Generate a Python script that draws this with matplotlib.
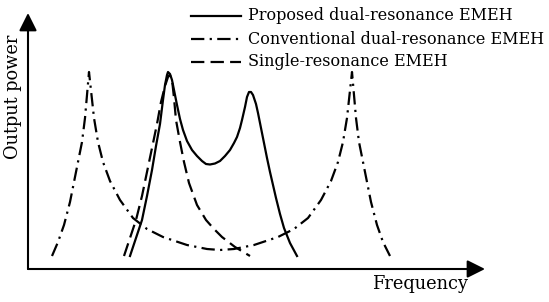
import matplotlib
matplotlib.use("Agg")
import matplotlib.pyplot as plt
from matplotlib.lines import Line2D

# Schematic values (arbitrary units)
conv_freq = [24, 30, 36, 42, 48, 54, 57, 59, 61, 63.5, 66, 70, 75, 82, 92, 105, 119, 135, 159, 179, 192,
             206, 226, 250, 266, 280, 293, 303, 310, 315, 319, 321.5, 324, 326, 328, 331, 337, 343, 349, 355, 362]
conv_power = [13, 27, 44, 67, 97, 127, 151, 174, 197, 174, 151, 127, 107, 88, 69, 51, 40, 32, 24, 20, 19,
              20, 24, 32, 40, 51, 69, 88, 107, 127, 151, 174, 197, 174, 151, 127, 97, 67, 44, 27, 13]

prop_freq = [102, 108, 114, 119, 124, 128, 132, 135, 137, 139, 140, 142, 144, 146, 149, 152, 155, 159, 164,
             169, 174, 178, 182, 187, 192, 197, 202, 206, 209, 212, 214, 217, 219, 221, 223, 225, 228, 230,
             233, 236, 239, 242, 245, 248, 252, 256, 262, 269]
prop_power = [13, 31, 49, 73, 99, 123, 145, 169, 184, 194, 197, 195, 189, 179, 164, 150, 139, 128, 119,
              113, 108, 105, 104.5, 105.5, 108, 113, 119, 126, 132, 141, 149, 162, 172, 177, 177, 174, 165,
              156, 141, 126, 111, 97, 84, 71, 55, 41, 26, 13]

single_freq = [96, 102, 108, 114, 119, 124, 129, 133, 137, 140, 141.5, 143, 144.5, 146, 148, 152, 156,
               161, 169, 178, 186, 194, 207, 222]
single_power = [13, 31, 49, 73, 97, 121, 145, 167, 183, 192, 194, 192, 185, 171, 149, 127, 107, 86, 64,
                49, 40, 32, 22, 13]

labels = ["Proposed dual-resonance EMEH",
          "Conventional dual-resonance EMEH",
          "Single-resonance EMEH"]
x_label = "Frequency"
y_label = "Output power"

W, H = 549, 302
fig = plt.figure(figsize=(W / 100, H / 100), dpi=100)
ax = fig.add_axes([28 / W, 33 / H, 457 / W, 256 / H])
ax.set_xlim(0, 457)
ax.set_ylim(0, 256)
ax.axis("off")

lw = 1.6
styles = [
    dict(color="black", lw=lw, linestyle="-"),
    dict(color="black", lw=lw, linestyle=(0, (6.0, 2.4, 1.0, 2.4))),
    dict(color="black", lw=lw, linestyle=(0, (6.0, 2.8))),
]

ax.plot(prop_freq, prop_power, **styles[0], solid_joinstyle="round")
ax.plot(conv_freq, conv_power, **styles[1], clip_on=False)
ax.plot(single_freq, single_power, **styles[2], clip_on=False)

# axes with arrows
arrow = dict(arrowstyle="-|>,head_length=0.4,head_width=0.2", mutation_scale=27,
             lw=1.5, color="black", shrinkA=0, shrinkB=0)
ax.annotate("", xy=(1, 0), xytext=(0, 0), xycoords="axes fraction", arrowprops=arrow)
ax.annotate("", xy=(0, 1), xytext=(0, 0), xycoords="axes fraction", arrowprops=arrow)

label_font = dict(family="DejaVu Serif", size=12.8)
legend_font = dict(family="DejaVu Serif", size=11.5)
fig.text(13 / W, 1 - 97 / H, y_label, rotation=90, ha="center", va="center", **label_font)
fig.text(372 / W, 1 - 284 / H, x_label, ha="left", va="center", **label_font)

# manual legend
rows_y = [16, 39, 62]
for (lab, st, ry) in zip(labels, styles, rows_y):
    yf = 1 - ry / H
    fig.add_artist(Line2D([191 / W, 241 / W], [yf, yf], transform=fig.transFigure, **st))
    fig.text(248 / W, yf, lab, ha="left", va="center", **legend_font)

fig.savefig("out.png", dpi=100)
